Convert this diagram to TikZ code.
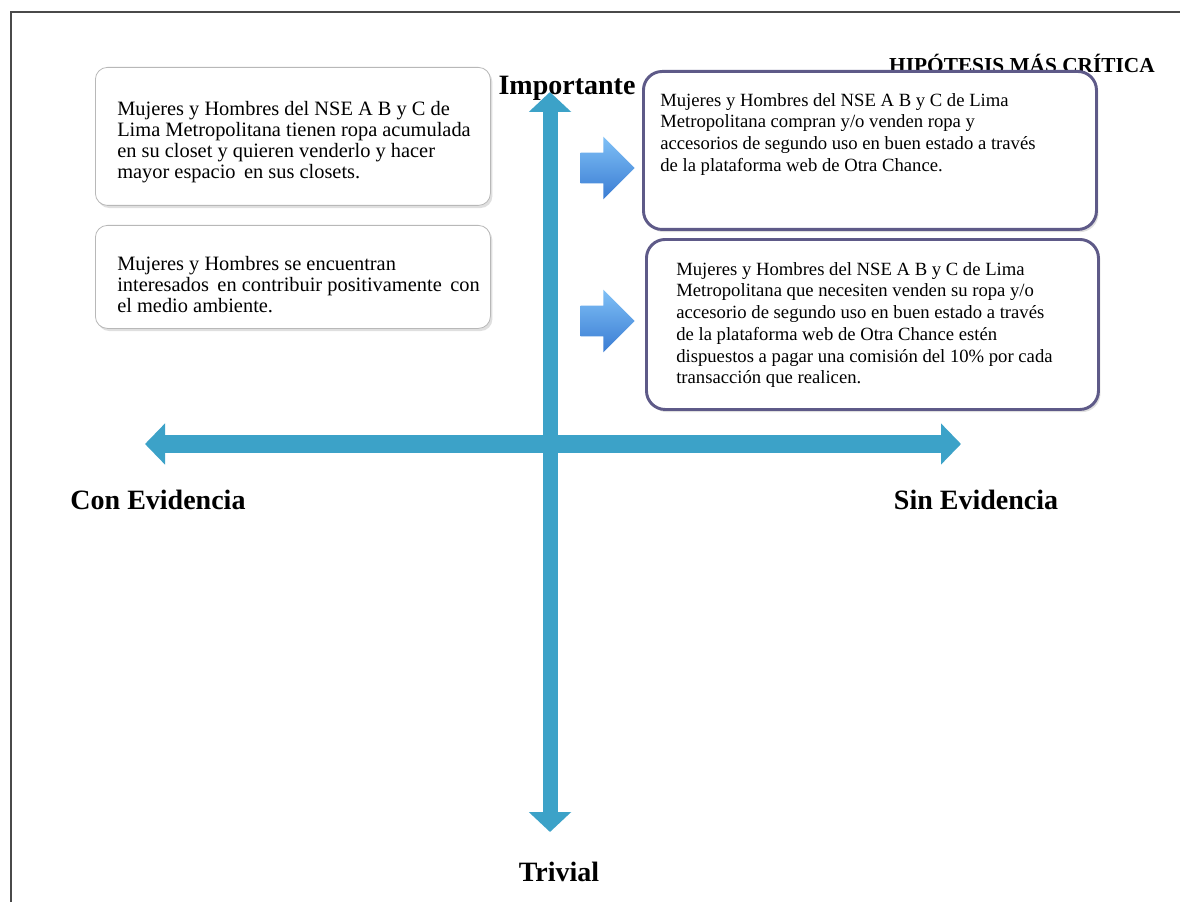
\documentclass[tikz,border=0pt]{standalone}
\usepackage{fontspec}
\setmainfont{Liberation Serif}
\usetikzlibrary{arrows.meta,shadows,shapes.arrows}

\definecolor{axisblue}{HTML}{3CA2C8}
\definecolor{hypborder}{HTML}{5E5A88}
\definecolor{notegray}{HTML}{B8B8B8}
\definecolor{arrowlight}{HTML}{7FC0F6}
\definecolor{arrowdark}{HTML}{3A7CD3}
\definecolor{framegray}{HTML}{4A4A4A}

\newcommand{\wsp}{\hspace{2.5pt}}

\tikzset{
  vaxis/.style={draw=axisblue, line width=11.25pt,
    {Triangle[length=15pt 0 0,width=31pt 0 0]}-{Triangle[length=15pt 0 0,width=31pt 0 0]}},
  haxis/.style={draw=axisblue, line width=13.5pt,
    {Triangle[length=15pt 0 0,width=30pt 0 0]}-{Triangle[length=15pt 0 0,width=30pt 0 0]}},
  axislabel/.style={font=\fontsize{21pt}{24pt}\selectfont\bfseries, inner sep=0pt},
  critlabel/.style={font=\fontsize{16pt}{18pt}\selectfont\bfseries, inner sep=0pt},
  notebox/.style={anchor=north west, draw=notegray, line width=0.6pt, rounded corners=9pt,
    fill=white, drop shadow={shadow xshift=1.5pt, shadow yshift=-2pt, opacity=0.25}},
  hypbox/.style={anchor=north west, draw=hypborder, line width=2.2pt, rounded corners=14pt,
    fill=white, drop shadow={shadow xshift=1.5pt, shadow yshift=-2pt, opacity=0.25}},
  notetext/.style={anchor=north west, inner sep=0pt, align=left,
    font=\fontsize{15.3pt}{15.75pt}\selectfont},
  hyptext/.style={anchor=north west, inner sep=0pt, align=left,
    font=\fontsize{14pt}{16.3pt}\selectfont},
  blockarrow/.style={single arrow, single arrow head extend=12pt, minimum height=40.5pt,
    inner sep=11.25pt, top color=arrowlight, bottom color=arrowdark, draw=none}
}

\begin{document}
\begin{tikzpicture}[x=0.75pt, y=-0.75pt]
  \useasboundingbox (0,0) rectangle (1180,902);
  \fill[white] (0,0) rectangle (1180,902);

  % page frame (left and top edges)
  \draw[framegray, line width=1.4pt] (11,902) -- (11,12) -- (1180,12);

  % axes
  \coordinate (hleft) at (145,444);
  \coordinate (hright) at (961,444);
  \coordinate (vtop) at (550,92);
  \coordinate (vbot) at (550,832);
  \draw[haxis] (hleft) -- (hright);
  \draw[vaxis] (vtop) -- (vbot);

  % axis labels
  \node[axislabel] (imp) at (567,88) {Importante};
  \node[axislabel] (triv) at (559,872) {Trivial};
  \node[axislabel] (con) at (158,500) {Con Evidencia};
  \node[axislabel] (sin) at (976,500) {Sin Evidencia};
  \node[critlabel] (crit) at (1022,63) {HIPÓTESIS MÁS CRÍTICA};

  % hypotheses with evidence
  \node[notebox, minimum width=296.25pt, minimum height=103.5pt] (n1) at (95,67) {};
  \node[notetext] (n1t) at (117,101) {Mujeres y Hombres del NSE A B y C de\\
    Lima Metropolitana tienen ropa acumulada\\
    en su closet y quieren venderlo y hacer\\
    mayor espacio\wsp{} en sus closets.};
  \node[notebox, minimum width=296.25pt, minimum height=77.25pt] (n2) at (95,225) {};
  \node[notetext] (n2t) at (117,256) {Mujeres y Hombres se encuentran\\
    interesados\wsp{} en contribuir positivamente\wsp{} con\\
    el medio ambiente.};

  % critical hypotheses
  \node[hypbox, minimum width=339.75pt, minimum height=118.5pt] (h1) at (642,70) {};
  \node[hyptext] (h1t) at (660,93) {Mujeres y Hombres del NSE A B y C de Lima\\
    Metropolitana compran y/o venden ropa y\\
    accesorios de segundo uso en buen estado a través\\
    de la plataforma web de Otra Chance.};
  \node[hypbox, minimum width=339pt, minimum height=127.5pt] (h2) at (645,238) {};
  \node[hyptext] (h2t) at (676,262) {Mujeres y Hombres del NSE A B y C de Lima\\
    Metropolitana que necesiten venden su ropa y/o\\
    accesorio de segundo uso en buen estado a través\\
    de la plataforma web de Otra Chance estén\\
    dispuestos a pagar una comisión del 10\% por cada\\
    transacción que realicen.};

  % pointers to the critical hypotheses
  \node[blockarrow] (p1) at (600,168) {};
  \node[blockarrow] (p2) at (600,321) {};
\end{tikzpicture}
\end{document}
